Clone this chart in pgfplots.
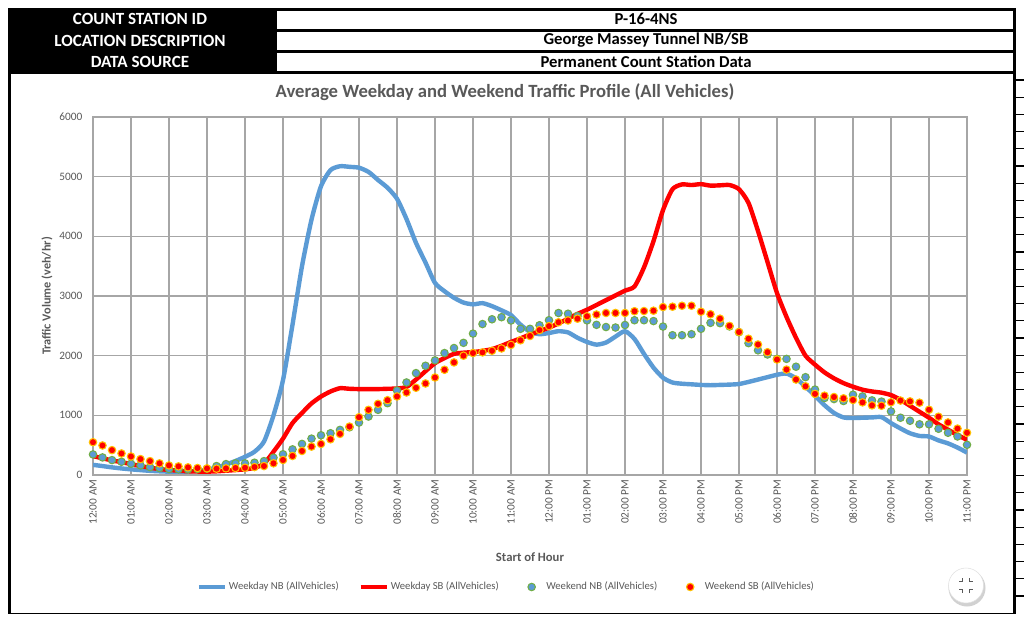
\documentclass[border=0pt]{standalone}
\usepackage{fontspec}
\setmainfont{Carlito}
\usepackage{pgfplots}
\usepackage{pgfplotstable}
\pgfplotsset{compat=1.18}
\definecolor{wdnb}{HTML}{5B9BD5}
\definecolor{wdsb}{HTML}{FF0000}
\definecolor{txtgray}{HTML}{595959}
\definecolor{gridgray}{HTML}{A6A6A6}
\definecolor{wenbfill}{HTML}{5B9BD5}
\definecolor{wenbedge}{HTML}{70AD47}
\definecolor{wesbfill}{HTML}{FF0000}
\definecolor{wesbedge}{HTML}{FFC000}
\pgfplotsset{
  lineleg/.style={legend image code/.code={\draw[##1] (0cm,0cm) -- (0.7cm,0cm);}},
  dotleg/.style 2 args={legend image code/.code={\path[draw=none,fill=none] (0cm,-0.1cm) rectangle (0.7cm,0.1cm);
    \filldraw[fill=#1,draw=#2,line width=0.8pt] (0.35cm,0cm) circle (2.8pt);}},
}

\pgfplotstableread{
h wdnb wdsb wenb wesb
0 170 317 345 550
0.25 150 280 295 495
0.5 128 245 250 417
0.75 110 215 222 361
1 95 183 189 311
1.25 82 150 161 267
1.5 70 122 133 233
1.75 62 100 117 195
2 56 85 100 161
2.25 55 72 95 145
2.5 58 63 95 128
2.75 68 58 100 117
3 88 56 106 111
3.25 125 62 150 106
3.5 175 72 183 111
3.75 235 83 195 117
4 305 95 195 122
4.25 390 120 206 133
4.5 560 190 233 150
4.75 1000 390 290 196
5 1590 610 348 252
5.25 2520 870 430 319
5.5 3500 1040 521 403
5.75 4280 1200 610 476
6 4840 1315 666 521
6.25 5110 1400 700 599
6.5 5175 1455 756 689
6.75 5165 1445 800 812
7 5150 1440 879 969
7.25 5080 1440 980 1092
7.5 4945 1440 1092 1193
7.75 4815 1445 1204 1254
8 4630 1450 1417 1316
8.25 4290 1475 1551 1383
8.5 3890 1600 1708 1462
8.75 3560 1740 1831 1534
9 3220 1875 1921 1635
9.25 3080 1960 2044 1764
9.5 2970 2030 2128 1887
9.75 2890 2050 2215 2000
10 2860 2060 2370 2044
10.25 2880 2080 2530 2055
10.5 2830 2110 2610 2082
10.75 2760 2165 2645 2121
11 2680 2230 2590 2181
11.25 2520 2290 2450 2258
11.5 2400 2355 2450 2330
11.75 2360 2410 2510 2429
12 2380 2470 2595 2495
12.25 2410 2540 2715 2560
12.5 2390 2620 2703 2590
12.75 2300 2700 2665 2620
13 2230 2770 2592 2660
13.25 2185 2850 2517 2690
13.5 2220 2930 2480 2716
13.75 2320 3010 2472 2716
14 2410 3090 2514 2716
14.25 2280 3160 2594 2745
14.5 2030 3480 2594 2748
14.75 1800 3920 2580 2754
15 1630 4440 2488 2815
15.25 1550 4790 2343 2821
15.5 1530 4870 2343 2837
15.75 1520 4860 2360 2837
16 1510 4875 2450 2737
16.25 1505 4850 2550 2695
16.5 1510 4855 2545 2620
16.75 1515 4860 2490 2499
17 1525 4790 2393 2396
17.25 1560 4560 2210 2284
17.5 1600 4090 2090 2187
17.75 1640 3570 2020 2058
18 1680 3050 1946 1935
18.25 1700 2650 1946 1767
18.5 1620 2300 1815 1600
18.75 1480 2000 1640 1487
19 1330 1850 1432 1360
19.25 1170 1720 1290 1330
19.5 1040 1620 1273 1307
19.75 965 1540 1240 1285
20 955 1480 1346 1257
20.25 960 1430 1318 1217
20.5 965 1400 1251 1167
20.75 970 1380 1231 1161
21 870 1340 1066 1220
21.25 780 1260 960 1248
21.5 700 1160 909 1234
21.75 655 1060 850 1212
22 645 960 850 1094
22.25 580 850 775 977
22.5 530 760 708 881
22.75 460 670 646 778
23 376 590 506 708
}\datatable

\begin{document}
\begin{tikzpicture}
\begin{scope}[x=0.75pt,y=-0.75pt]
\path[use as bounding box] (0,0) rectangle (1024,618);
\fill[white] (0,0) rectangle (1024,618);
% header table
\fill[black] (8,8) rectangle (1016,74);
\fill[white] (277,10.5) rectangle (1013,29);
\fill[white] (277,31.5) rectangle (1013,50);
\fill[white] (277,52.5) rectangle (1013,71);
\node[white,font=\bfseries\fontsize{12.8}{14}\selectfont] at (140,19) {COUNT STATION ID};
\node[white,font=\bfseries\fontsize{12.8}{14}\selectfont] at (140,40.5) {LOCATION DESCRIPTION};
\node[white,font=\bfseries\fontsize{12.8}{14}\selectfont] at (140,61.5) {DATA SOURCE};
\node[black,font=\bfseries\fontsize{12.5}{14}\selectfont] at (646,19) {P-16-4NS};
\node[black,font=\bfseries\fontsize{12.5}{14}\selectfont] at (646,40.5) {George Massey Tunnel NB/SB};
\node[black,font=\bfseries\fontsize{12.5}{14}\selectfont] at (646,61.5) {Permanent Count Station Data};
% chart frame
\draw[black,line width=2.2pt] (9.5,74) -- (9.5,613.5);
\draw[black,line width=2.2pt] (1014.5,8) -- (1014.5,613.5);
\draw[black,line width=1.2pt] (8,613.5) -- (1016,613.5);
\foreach \yy in {80,97.2,...,612} {\draw[black,line width=1pt] (1014,\yy) -- (1024,\yy);}
% title
\node[txtgray,font=\bfseries\fontsize{14}{16}\selectfont] at (505,92) {Average Weekday and Weekend Traffic Profile (All Vehicles)};
% button
\fill[black!18] (967,588) circle (18.5);
\fill[white] (966,585.5) circle (17.5);
\draw[black!12] (966,585.5) circle (17.5);
\draw[black!65,line width=1pt] (959,581.5)--(962.5,581.5)--(962.5,578);
\draw[black!65,line width=1pt] (969.5,578)--(969.5,581.5)--(973,581.5);
\draw[black!65,line width=1pt] (959,589.5)--(962.5,589.5)--(962.5,593);
\draw[black!65,line width=1pt] (969.5,593)--(969.5,589.5)--(973,589.5);
\end{scope}
\begin{axis}[
  at={(69.75pt,-356.25pt)}, anchor=south west,
  scale only axis, width=655.5pt, height=268.5pt,
  xmin=0, xmax=23, ymin=0, ymax=6000,
  xtick={0,1,...,23},
  xticklabels={12:00 AM,01:00 AM,02:00 AM,03:00 AM,04:00 AM,05:00 AM,06:00 AM,07:00 AM,08:00 AM,09:00 AM,10:00 AM,11:00 AM,12:00 PM,01:00 PM,02:00 PM,03:00 PM,04:00 PM,05:00 PM,06:00 PM,07:00 PM,08:00 PM,09:00 PM,10:00 PM,11:00 PM},
  ytick={0,1000,...,6000},
  grid=major,
  grid style={gridgray, line width=0.8pt},
  axis line style={gridgray, line width=0.8pt},
  major tick length=0pt,
  /pgf/number format/assume math mode=true,
  /pgf/number format/1000 sep={},
  tick label style={font=\fontsize{8.5}{10}\selectfont, text=txtgray},
  xticklabel style={rotate=90, anchor=east},
  yticklabel style={xshift=-4.5pt},
  xlabel={Start of Hour},
  ylabel={Traffic Volume (veh/hr)},
  xlabel style={font=\bfseries\fontsize{9.5}{11}\selectfont, text=txtgray, at={(axis description cs:0.5,-0.229)}, anchor=center},
  ylabel style={font=\bfseries\fontsize{9.2}{10}\selectfont, text=txtgray, at={(axis description cs:-0.0526,0.5)}, anchor=center, rotate=0},
  legend columns=4,
  legend style={draw=none, fill=none, at={(axis description cs:0.4725,-0.3128)}, anchor=center,
    font=\fontsize{8}{9}\selectfont, text=txtgray,
    /tikz/every even column/.append style={column sep=13.7pt},
    nodes={inner xsep=1pt}},
]
\addplot[wdnb, line width=3.3pt, smooth, tension=0.4, no marks, lineleg] table[x=h,y=wdnb] {\datatable};
\addlegendentry{Weekday NB (AllVehicles)}
\addplot[wdsb, line width=3.3pt, smooth, tension=0.4, no marks, lineleg] table[x=h,y=wdsb] {\datatable};
\addlegendentry{Weekday SB (AllVehicles)}
\addplot[only marks, mark=*, mark size=2.8pt, mark options={fill=wenbfill, draw=wenbedge, line width=0.8pt}, dotleg={wenbfill}{wenbedge}] table[x=h,y=wenb] {\datatable};
\addlegendentry{Weekend NB (AllVehicles)}
\addplot[only marks, mark=*, mark size=2.8pt, mark options={fill=wesbfill, draw=wesbedge, line width=0.8pt}, dotleg={wesbfill}{wesbedge}] table[x=h,y=wesb] {\datatable};
\addlegendentry{Weekend SB (AllVehicles)}
\end{axis}
\end{tikzpicture}
\end{document}
